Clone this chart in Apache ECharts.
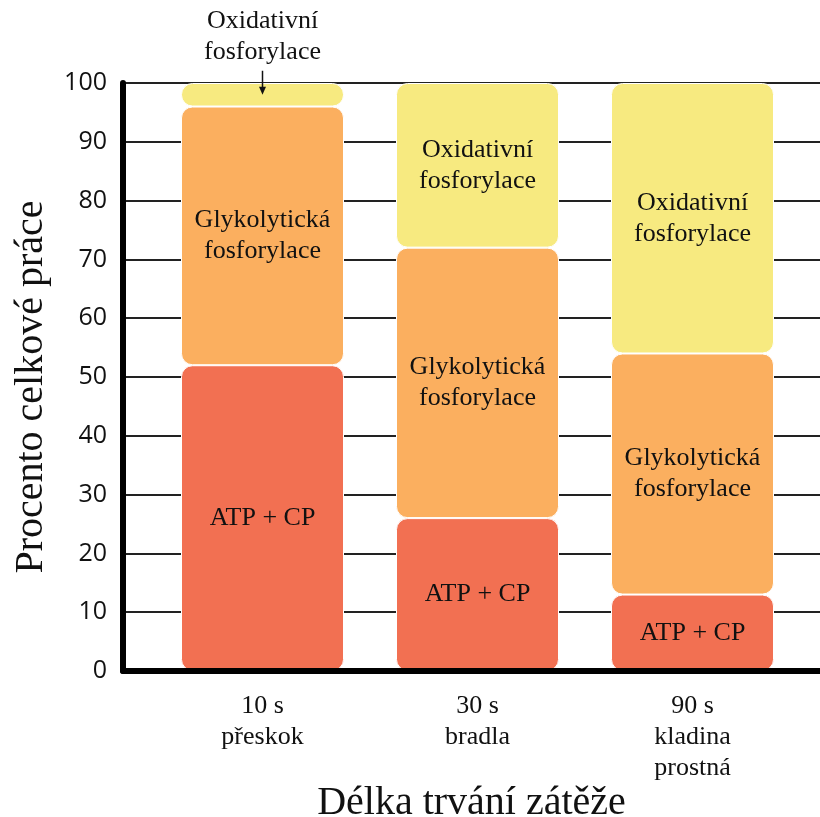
<!DOCTYPE html>
<html>
<head>
<meta charset="utf-8">
<script src="https://cdn.jsdelivr.net/npm/echarts@6/dist/echarts.min.js"></script>
<style>
  html, body { margin: 0; padding: 0; background: #fff; }
  #chart { width: 820px; height: 817px; }
</style>
</head>
<body>
<div id="chart"></div>
<script>
// Share of total work supplied by each energy system, per exercise duration
const categories = ['10 s\npřeskok', '30 s\nbradla', '90 s\nkladina\nprostná'];
const atpCp = [52, 26, 13];
const glycolytic = [44, 46, 41];
const oxidative = [4, 28, 46];
const segmentNames = ['ATP + CP', 'Glykolytická\nfosforylace', 'Oxidativní\nfosforylace'];
const yTicks = [0, 10, 20, 30, 40, 50, 60, 70, 80, 90, 100];

const SERIF = 'Liberation Serif';
const colors = ['#F27052', '#FBAF5F', '#F7EA80'];

const chart = echarts.init(document.getElementById('chart'), null, { renderer: 'canvas' });

const segLabel = (name) => ({
  show: true,
  position: 'inside',
  formatter: name,
  fontFamily: SERIF,
  fontSize: 26,
  lineHeight: 31,
  color: '#111'
});

function barSeries(idx, values, itemOverride) {
  return {
    name: segmentNames[idx],
    type: 'bar',
    stack: 'work',
    xAxisIndex: 1,
    yAxisIndex: 1,
    barWidth: 163,
    data: values.map((v, i) => {
      const item = { value: v };
      if (itemOverride && itemOverride[i]) Object.assign(item, itemOverride[i]);
      return item;
    }),
    itemStyle: {
      color: colors[idx],
      borderRadius: 11,
      borderColor: '#fff',
      borderWidth: 1
    },
    label: segLabel(segmentNames[idx]),
    z: 2
  };
}

// the thin oxidative slice of the first column carries its label above, with an arrow
const oxOverride = {
  0: { label: { position: 'top', distance: 15 } }
};

const arrowData = [[0, atpCp[0] + glycolytic[0] + oxidative[0] / 2]];

const plotTop = 83;
const plotBottom = 146;

const option = {
  backgroundColor: '#fff',
  animation: false,
  grid: [
    // frame: axes and horizontal rules
    { left: 123, right: 0, top: plotTop, bottom: plotBottom, containLabel: false, outerBoundsMode: 'none' },
    // columns
    { left: 155, right: 20, top: plotTop, bottom: plotBottom, containLabel: false, outerBoundsMode: 'none' }
  ],
  xAxis: [
    {
      type: 'category',
      gridIndex: 0,
      data: categories,
      z: 3,
      axisTick: { show: false },
      axisLabel: { show: false },
      splitLine: { show: false },
      axisLine: { show: true, onZero: false, lineStyle: { color: '#000', width: 6 } },
      name: 'Délka trvání zátěže',
      nameLocation: 'middle',
      nameGap: 112,
      nameTextStyle: { fontFamily: SERIF, fontSize: 40, color: '#111' }
    },
    {
      type: 'category',
      gridIndex: 1,
      data: categories,
      axisLine: { show: false },
      axisTick: { show: false },
      splitLine: { show: false },
      axisLabel: {
        fontFamily: SERIF,
        fontSize: 26,
        lineHeight: 31,
        color: '#111',
        margin: 20,
        verticalAlign: 'top'
      }
    }
  ],
  yAxis: [
    {
      type: 'value',
      gridIndex: 0,
      min: 0,
      max: 100,
      interval: 10,
      z: 0,
      axisLine: { show: true, onZero: false, lineStyle: { color: '#000', width: 6, cap: 'round' } },
      axisTick: { show: false },
      splitLine: { show: true, lineStyle: { color: '#222', width: 2 } },
      axisLabel: {
        formatter: (v) => (yTicks.indexOf(v) >= 0 ? String(v) : ''),
        fontFamily: 'Open Sans',
        fontSize: 25,
        color: '#111',
        margin: 16
      },
      name: 'Procento celkové práce',
      nameLocation: 'middle',
      nameGap: 72,
      nameTextStyle: { fontFamily: SERIF, fontSize: 40, color: '#111', padding: [0, 20, 0, 0] }
    },
    {
      type: 'value',
      gridIndex: 1,
      min: 0,
      max: 100,
      interval: 10,
      show: false,
      splitLine: { show: false }
    }
  ],
  series: [
    barSeries(0, atpCp),
    barSeries(1, glycolytic),
    barSeries(2, oxidative, oxOverride),
    {
      type: 'custom',
      xAxisIndex: 1,
      yAxisIndex: 1,
      clip: false,
      z: 5,
      silent: true,
      data: arrowData,
      renderItem: (params, api) => {
        const tip = api.coord([api.value(0), api.value(1)]);
        const x = tip[0];
        const y = tip[1];
        return {
          type: 'group',
          children: [
            {
              type: 'line',
              shape: { x1: x, y1: y - 24, x2: x, y2: y - 6 },
              style: { stroke: '#111', lineWidth: 1.5 }
            },
            {
              type: 'polygon',
              shape: { points: [[x - 3.5, y - 8], [x + 3.5, y - 8], [x, y]] },
              style: { fill: '#111' }
            }
          ]
        };
      }
    }
  ]
};

chart.setOption(option);
</script>
</body>
</html>
